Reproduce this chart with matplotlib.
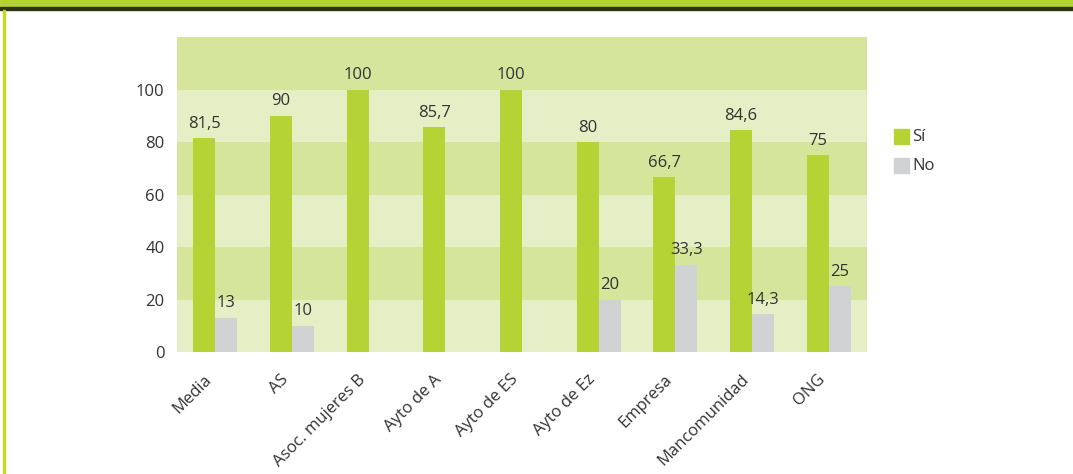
import numpy as np
from matplotlib import pyplot as plt
from matplotlib.patches import Rectangle

categories = ['Media', 'AS', 'Asoc. mujeres B', 'Ayto de A', 'Ayto de ES',
              'Ayto de Ez', 'Empresa', 'Mancomunidad', 'ONG']
si = [81.5, 90, 100, 85.7, 100, 80, 66.7, 84.6, 75]
no = [13, 10, None, None, None, 20, 33.3, 14.3, 25]
yticks = [0, 20, 40, 60, 80, 100]

green = '#b5d334'
grey = '#d1d2d4'
band_dark = '#d6e59c'
band_light = '#e5eec4'
text_col = '#333333'

plt.rcParams['font.family'] = ['Open Sans', 'DejaVu Sans']

fig = plt.figure(figsize=(10.73, 4.74), dpi=100)

# page decoration: top band, dark rule, left rule
fig.patches.append(Rectangle((0, 1 - 7 / 474), 1, 7 / 474, transform=fig.transFigure,
                             color=green, zorder=0))
fig.patches.append(Rectangle((0, 1 - 10 / 474), 1, 3 / 474, transform=fig.transFigure,
                             color='#2b3512', zorder=0))
fig.patches.append(Rectangle((3 / 1073, 0), 2 / 1073, 1 - 10 / 474, transform=fig.transFigure,
                             color='#c5dc1e', zorder=0))

ax = fig.add_axes([177 / 1073, 1 - 352 / 474, 690 / 1073, 316 / 474])

# alternating bands
for i, y0 in enumerate(range(0, 120, 20)):
    ax.axhspan(y0, y0 + 20, color=band_light if i % 2 == 0 else band_dark, lw=0, zorder=0)

x = np.arange(len(categories))
w = 0.287
for xi, v in zip(x, si):
    ax.bar(xi - w / 2, v, w, color=green, zorder=2)
    ax.text(xi - w / 2, v + 2.5, f'{v:g}'.replace('.', ','), ha='center', va='bottom',
            fontsize=12, color=text_col)
for xi, v in zip(x, no):
    if v is None:
        continue
    ax.bar(xi + w / 2, v, w, color=grey, zorder=2)
    ax.text(xi + w / 2, v + 2.5, f'{v:g}'.replace('.', ','), ha='center', va='bottom',
            fontsize=12, color=text_col)

ax.set_xlim(-0.5, len(categories) - 0.5)
ax.set_ylim(0, 120.5)
ax.set_yticks(yticks)
ax.set_yticklabels([str(t) for t in yticks], fontsize=12, color=text_col)
# tick marks are hidden, so nudge label anchors a little left of the group centres
ax.set_xticks(x - 0.15)
ax.set_xticklabels(categories, rotation=45, ha='right', rotation_mode='anchor',
                   fontsize=12, color=text_col)
ax.tick_params(axis='both', length=0)
ax.tick_params(axis='y', pad=9)
ax.tick_params(axis='x', pad=14)
for s in ax.spines.values():
    s.set_visible(False)

# legend
fig.patches.append(Rectangle((894 / 1073, 1 - 144 / 474), 15 / 1073, 15 / 474,
                             transform=fig.transFigure, color=green))
fig.patches.append(Rectangle((894 / 1073, 1 - 173 / 474), 15 / 1073, 15 / 474,
                             transform=fig.transFigure, color=grey))
fig.text(912 / 1073, 1 - 137 / 474, 'Sí', va='center', fontsize=12, color=text_col)
fig.text(912 / 1073, 1 - 166 / 474, 'No', va='center', fontsize=12, color=text_col)

plt.savefig('out.png', dpi=100, facecolor='white')
plt.close()
